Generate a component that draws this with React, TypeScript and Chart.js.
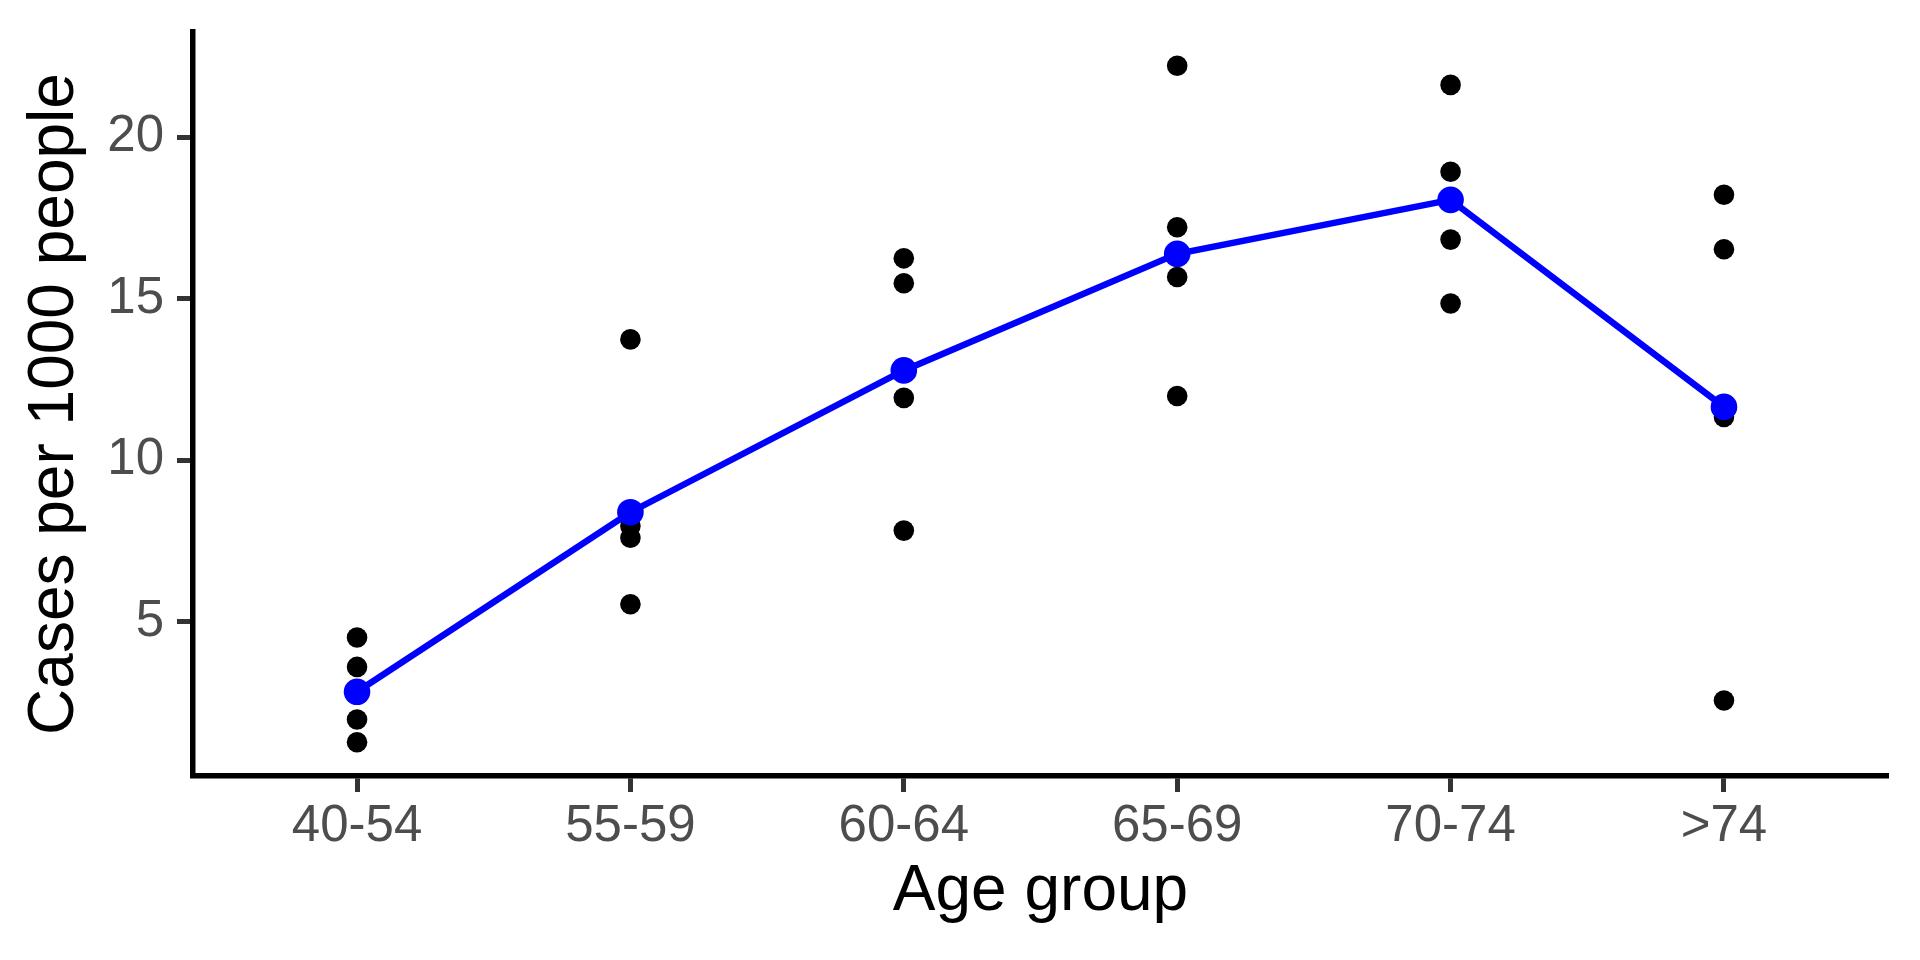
import React, { useEffect, useRef } from "react";
import { Chart, registerables } from "chart.js";

Chart.register(...registerables);

const categories = ["40-54", "55-59", "60-64", "65-69", "70-74", ">74"];
const group4054 = [4.51, 3.6, 1.97, 1.27];
const group5559 = [13.74, 7.96, 7.6, 5.54];
const group6064 = [16.25, 15.48, 11.93, 7.82];
const group6569 = [22.21, 17.21, 15.67, 11.99];
const group7074 = [21.62, 18.93, 16.83, 14.85];
const group74plus = [18.22, 16.53, 11.34, 2.56];
const groupMeans = [2.83, 8.39, 12.78, 16.39, 18.06, 11.65];
const yTicks = [5, 10, 15, 20];

const FONT = "'Liberation Sans', Arial, Helvetica, sans-serif";

function resetPadding(scale: any) {
  scale.paddingTop = 0;
  scale.paddingBottom = 0;
  scale.paddingLeft = 0;
  scale.paddingRight = 0;
}

export default function App() {
  const ref = useRef<HTMLCanvasElement | null>(null);

  useEffect(() => {
    if (!ref.current) return;
    const groups = [group4054, group5559, group6064, group6569, group7074, group74plus];
    const pts: { x: number; y: number }[] = [];
    groups.forEach((g, i) => g.forEach((v) => pts.push({ x: i, y: v })));
    const meanPts = groupMeans.map((v, i) => ({ x: i, y: v }));
    const all = pts.map((p) => p.y).concat(groupMeans);
    const lo = Math.min(...all);
    const hi = Math.max(...all);
    const pad = (hi - lo) * 0.05;

    const chart = new Chart(ref.current, {
      type: "scatter",
      data: {
        datasets: [
          {
            type: "line",
            data: meanPts,
            borderColor: "#0000FF",
            backgroundColor: "#0000FF",
            borderWidth: 6.5,
            pointRadius: 13.3,
            pointBorderWidth: 0,
            pointBackgroundColor: "#0000FF",
            tension: 0,
            fill: false,
            order: 0,
          } as any,
          {
            type: "scatter",
            data: pts,
            pointRadius: 10.3,
            pointBorderWidth: 0,
            pointBackgroundColor: "#000000",
            backgroundColor: "#000000",
            borderColor: "#000000",
            order: 1,
          },
        ],
      },
      options: {
        responsive: false,
        animation: false,
        devicePixelRatio: 1,
        layout: { padding: { top: 32, right: 32, left: 0, bottom: 0 } },
        plugins: { legend: { display: false }, tooltip: { enabled: false } },
        scales: {
          x: {
            type: "linear",
            min: -0.6,
            max: categories.length - 1 + 0.6,
            afterBuildTicks: (scale: any) => {
              scale.ticks = categories.map((_, i) => ({ value: i }));
            },
            afterFit: (scale: any) => {
              scale.height = 184;
              resetPadding(scale);
            },
            ticks: {
              autoSkip: false,
              maxRotation: 0,
              padding: 4,
              color: "#4D4D4D",
              font: { family: FONT, size: 51 },
              callback: (v: any) => categories[v as number] ?? "",
            },
            grid: {
              drawOnChartArea: false,
              drawTicks: true,
              tickLength: 16,
              tickWidth: 5,
              tickColor: "#333333",
            },
            border: { display: true, color: "#000000", width: 5.5 },
            title: {
              display: true,
              text: "Age group",
              color: "#000000",
              font: { family: FONT, size: 64 },
              padding: { top: 0, bottom: 29 },
            },
          },
          y: {
            type: "linear",
            min: lo - pad,
            max: hi + pad,
            afterBuildTicks: (scale: any) => {
              scale.ticks = yTicks.map((v) => ({ value: v }));
            },
            afterFit: (scale: any) => {
              scale.width = 193;
              resetPadding(scale);
            },
            ticks: {
              padding: 13,
              color: "#4D4D4D",
              font: { family: FONT, size: 51 },
            },
            grid: {
              drawOnChartArea: false,
              drawTicks: true,
              tickLength: 16,
              tickWidth: 5,
              tickColor: "#333333",
            },
            border: { display: true, color: "#000000", width: 5.5 },
            title: {
              display: true,
              text: "Cases per 1000 people",
              color: "#000000",
              font: { family: FONT, size: 64 },
              padding: { top: 17, bottom: 0 },
            },
          },
        },
      },
    });
    return () => chart.destroy();
  }, []);

  return (
    <div style={{ position: "absolute", left: 0, top: 0, width: 1920, height: 960, background: "#fff" }}>
      <canvas ref={ref} width={1920} height={960} style={{ display: "block" }} />
    </div>
  );
}
